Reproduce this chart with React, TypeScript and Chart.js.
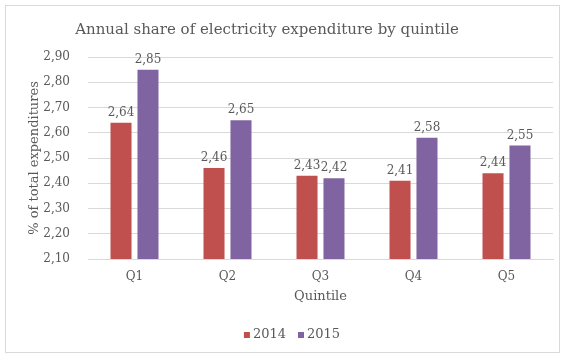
import React, { useEffect, useRef } from "react";
import { Chart, registerables } from "chart.js";

Chart.register(...registerables);

const categories = ["Q1", "Q2", "Q3", "Q4", "Q5"];
const values2014 = [2.64, 2.46, 2.43, 2.41, 2.44];
const values2015 = [2.85, 2.65, 2.42, 2.58, 2.55];
const seriesNames = ["2014", "2015"];
const seriesColors = ["#C0504D", "#8064A2"];
const chartTitle = "Annual share of electricity expenditure by quintile";
const yMin = 2.1;
const yMax = 2.9;
const yStep = 0.1;

const FONT = "'DejaVu Serif', serif";
const TEXT = "#595959";

const fmt = (v: number) => v.toFixed(2).replace(".", ",");

const labelPlugin = {
  id: "barLabels",
  afterDatasetsDraw(chart: any) {
    const ctx = chart.ctx;
    ctx.save();
    ctx.font = `12px ${FONT}`;
    ctx.fillStyle = TEXT;
    ctx.textAlign = "center";
    ctx.textBaseline = "bottom";
    chart.data.datasets.forEach((ds: any, i: number) => {
      const meta = chart.getDatasetMeta(i);
      meta.data.forEach((bar: any, j: number) => {
        ctx.fillText(fmt(ds.data[j]), bar.x, bar.y - 4);
      });
    });
    ctx.restore();
  },
};

const titleLegendPlugin = {
  id: "titleLegend",
  afterDraw(chart: any) {
    const ctx = chart.ctx;
    ctx.save();
    ctx.fillStyle = TEXT;
    ctx.textBaseline = "middle";
    ctx.textAlign = "center";
    ctx.font = `15px ${FONT}`;
    ctx.fillText(chartTitle, 267, 30);

    ctx.font = `13px ${FONT}`;
    ctx.textAlign = "left";
    const box = 6;
    const gapBoxText = 3;
    const gapItems = 12;
    const items = chart.data.datasets.map((ds: any) => ({
      label: ds.label,
      color: ds.backgroundColor,
      w: box + gapBoxText + ctx.measureText(ds.label).width,
    }));
    const total = items.reduce((a: number, it: any) => a + it.w, 0) + gapItems * (items.length - 1);
    let x = 292 - total / 2;
    const y = 335;
    items.forEach((it: any) => {
      ctx.fillStyle = it.color;
      ctx.fillRect(x, y - box / 2, box, box);
      ctx.fillStyle = TEXT;
      ctx.fillText(it.label, x + box + gapBoxText, y);
      x += it.w + gapItems;
    });
    ctx.restore();
  },
};

export default function App() {
  const ref = useRef<HTMLCanvasElement>(null);
  useEffect(() => {
    if (!ref.current) return;
    const chart = new Chart(ref.current, {
      type: "bar",
      data: {
        labels: categories,
        datasets: [
          { label: seriesNames[0], data: values2014, backgroundColor: seriesColors[0] },
          { label: seriesNames[1], data: values2015, backgroundColor: seriesColors[1] },
        ],
      },
      options: {
        animation: false,
        responsive: false,
        maintainAspectRatio: false,
        layout: { padding: { left: 0, right: 13, top: 57, bottom: 51 } },
        datasets: { bar: { categoryPercentage: 0.58, barPercentage: 0.78 } } as any,
        plugins: {
          title: { display: false },
          legend: { display: false },
          tooltip: { enabled: false },
        },
        scales: {
          x: {
            grid: { display: false, drawTicks: false },
            border: { color: "#d9d9d9" },
            ticks: { color: TEXT, font: { family: FONT, size: 12 }, padding: 11 },
            title: {
              display: true,
              text: "Quintile",
              color: TEXT,
              font: { family: FONT, size: 13 },
              padding: { top: 0, bottom: 1 },
            },
            afterFit: (s: any) => {
              s.height = 46;
            },
          },
          y: {
            min: yMin,
            max: yMax,
            grid: { color: "#d9d9d9", drawTicks: false },
            border: { display: false },
            ticks: {
              stepSize: yStep,
              color: TEXT,
              font: { family: FONT, size: 12 },
              padding: 18,
              callback: (v: any) => fmt(Number(v)),
            },
            title: {
              display: true,
              text: "% of total expenditures",
              color: TEXT,
              font: { family: FONT, size: 13 },
              padding: { top: 27, bottom: 0 },
            },
            afterFit: (s: any) => {
              s.width = 88;
            },
          },
        },
      },
      plugins: [labelPlugin, titleLegendPlugin],
    });
    return () => chart.destroy();
  }, []);
  return (
    <div style={{ position: "absolute", left: 0, top: 0, width: 566, height: 356, background: "#fff" }}>
      <div
        style={{
          position: "absolute",
          left: 5,
          top: 5,
          width: 553,
          height: 346,
          border: "1px solid #d9d9d9",
        }}
      />
      <canvas ref={ref} width={566} height={356} style={{ position: "absolute", left: 0, top: 0 }} />
    </div>
  );
}
